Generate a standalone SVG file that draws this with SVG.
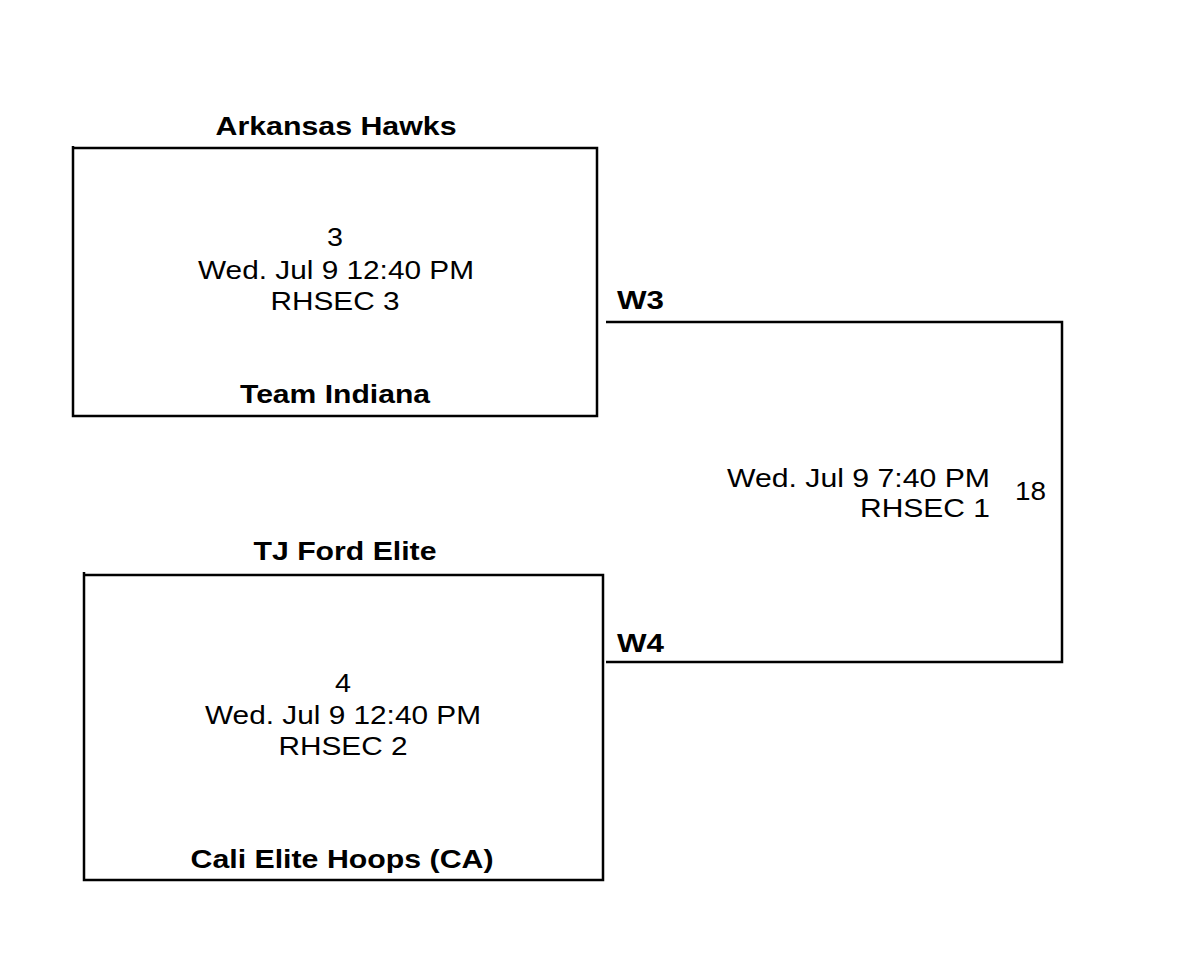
<svg xmlns="http://www.w3.org/2000/svg" width="1200" height="956" viewBox="0 0 1200 956">
<style>
text{font-family:"Liberation Sans",Arial,sans-serif;font-size:26px;fill:#000}
.b{font-weight:bold}
.m{text-anchor:middle}
.e{text-anchor:end}
.l{stroke:#000;stroke-width:2.5;fill:none}
</style>
<rect width="1200" height="956" fill="#fff"/>
<g id="game3">
<path class="l" d="M73 146V416H597V148H74"/>
<text class="b m" x="336" y="135" textLength="241" lengthAdjust="spacingAndGlyphs">Arkansas Hawks</text>
<text class="m" x="335" y="246" textLength="16" lengthAdjust="spacingAndGlyphs">3</text>
<text class="m" x="336" y="279" textLength="276" lengthAdjust="spacingAndGlyphs">Wed. Jul 9 12:40 PM</text>
<text class="m" x="335" y="310" textLength="129" lengthAdjust="spacingAndGlyphs">RHSEC 3</text>
<text class="b m" x="335" y="403" textLength="190" lengthAdjust="spacingAndGlyphs">Team Indiana</text>
</g>
<g id="game4">
<path class="l" d="M84 572V880H603V575H85"/>
<text class="b m" x="345" y="560" textLength="183" lengthAdjust="spacingAndGlyphs">TJ Ford Elite</text>
<text class="m" x="343" y="692" textLength="16" lengthAdjust="spacingAndGlyphs">4</text>
<text class="m" x="343" y="724" textLength="276" lengthAdjust="spacingAndGlyphs">Wed. Jul 9 12:40 PM</text>
<text class="m" x="343" y="755" textLength="129" lengthAdjust="spacingAndGlyphs">RHSEC 2</text>
<text class="b m" x="342" y="868" textLength="303" lengthAdjust="spacingAndGlyphs">Cali Elite Hoops (CA)</text>
</g>
<g id="connectors">
<path class="l" d="M606 322H1062V662H606"/>
</g>
<g id="game18">
<text class="b" x="617" y="309" textLength="47" lengthAdjust="spacingAndGlyphs">W3</text>
<text class="b" x="617" y="652" textLength="47" lengthAdjust="spacingAndGlyphs">W4</text>
<text class="e" x="990" y="487" textLength="263" lengthAdjust="spacingAndGlyphs">Wed. Jul 9 7:40 PM</text>
<text class="e" x="990" y="517" textLength="130" lengthAdjust="spacingAndGlyphs">RHSEC 1</text>
<text x="1015" y="500" textLength="31" lengthAdjust="spacingAndGlyphs">18</text>
</g>
</svg>
